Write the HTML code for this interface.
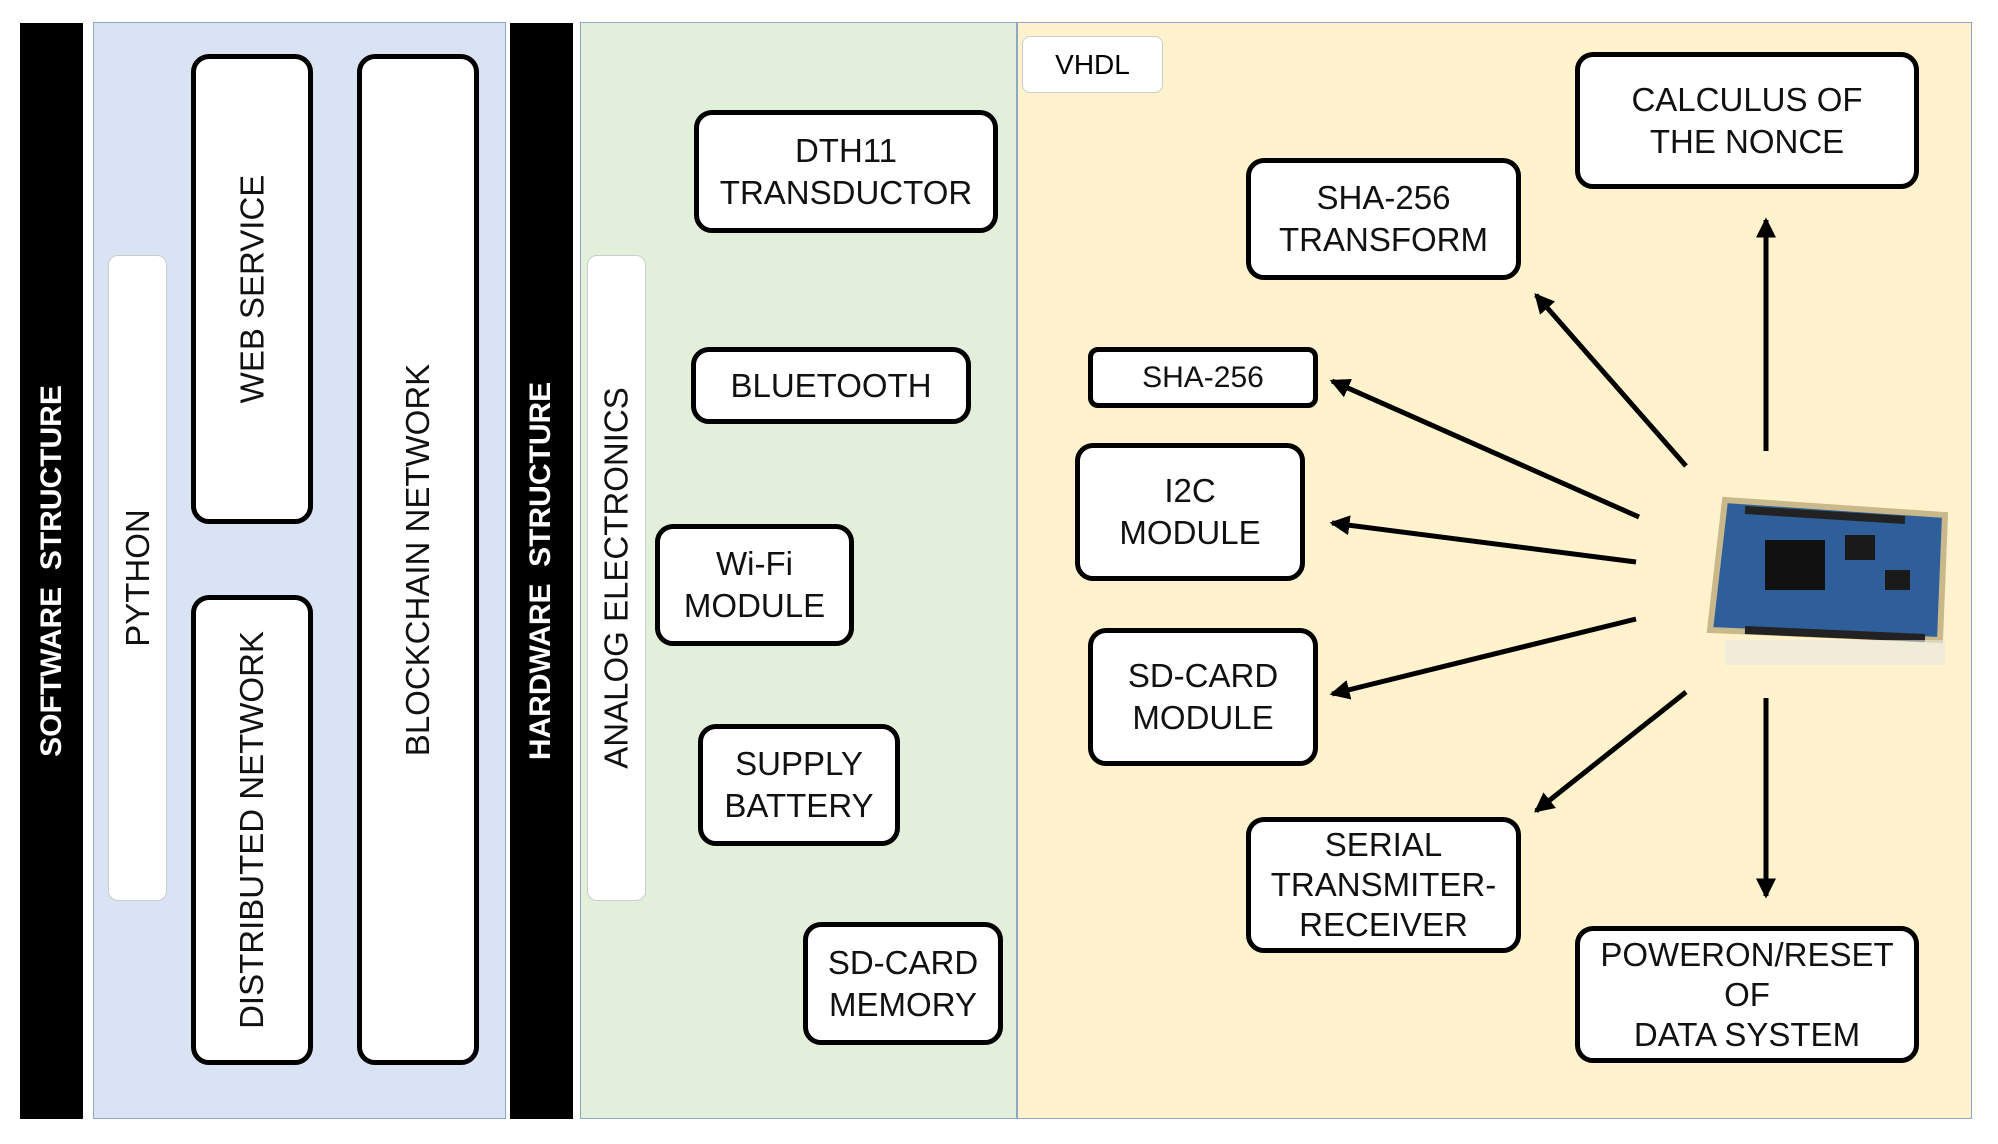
<!DOCTYPE html>
<html><head><style>
body{margin:0;width:1998px;height:1144px;background:#fff;position:relative;overflow:hidden;font-family:"Liberation Sans","DejaVu Sans",sans-serif}
div{position:absolute;box-sizing:border-box}
.bar{background:#000}
.box{border:5px solid #000;border-radius:18px;background:#fff;display:flex;align-items:center;justify-content:center;text-align:center;font-size:33px;line-height:42px;color:#111}
.v{display:flex;align-items:center;justify-content:center}
.v span{transform:rotate(-90deg);white-space:nowrap;font-size:33px;color:#111}
.wb{background:#fff;border:1px solid #ccc;border-radius:10px}
</style></head><body>
<div class="bar v" style="left:20px;top:23px;width:63px;height:1096px"><span style="color:#fff;font-weight:bold;font-size:30px">SOFTWARE&nbsp; STRUCTURE</span></div>
<div style="left:93px;top:22px;width:413px;height:1097px;background:#dae3f3;border:1.5px solid #8fa6c8"></div>
<div class="bar v" style="left:510px;top:23px;width:63px;height:1096px"><span style="color:#fff;font-weight:bold;font-size:30px">HARDWARE&nbsp; STRUCTURE</span></div>
<div style="left:580px;top:22px;width:437px;height:1097px;background:#e2efda;border:1.5px solid #8fa6c8"></div>
<div style="left:1017px;top:22px;width:955px;height:1097px;background:#fff2cc;border:1.5px solid #8fa6c8"></div>

<div class="wb v" style="left:108px;top:255px;width:59px;height:646px"><span>PYTHON</span></div>
<div class="box v" style="left:191px;top:54px;width:122px;height:470px"><span>WEB SERVICE</span></div>
<div class="box v" style="left:191px;top:595px;width:122px;height:470px"><span>DISTRIBUTED NETWORK</span></div>
<div class="box v" style="left:357px;top:54px;width:122px;height:1011px"><span>BLOCKCHAIN NETWORK</span></div>

<div class="wb v" style="left:587px;top:255px;width:59px;height:646px"><span>ANALOG ELECTRONICS</span></div>
<div class="box" style="left:694px;top:110px;width:304px;height:123px">DTH11<br>TRANSDUCTOR</div>
<div class="box" style="left:691px;top:347px;width:280px;height:77px">BLUETOOTH</div>
<div class="box" style="left:655px;top:524px;width:199px;height:122px">Wi-Fi<br>MODULE</div>
<div class="box" style="left:698px;top:724px;width:202px;height:122px">SUPPLY<br>BATTERY</div>
<div class="box" style="left:803px;top:922px;width:200px;height:123px">SD-CARD<br>MEMORY</div>

<div style="left:1022px;top:36px;width:141px;height:57px;background:#fff;border:1px solid #ccc;border-radius:8px;font-size:28px;display:flex;align-items:center;justify-content:center">VHDL</div>
<div class="box" style="left:1575px;top:52px;width:344px;height:137px">CALCULUS OF<br>THE NONCE</div>
<div class="box" style="left:1246px;top:158px;width:275px;height:122px">SHA-256<br>TRANSFORM</div>
<div class="box" style="left:1088px;top:347px;width:230px;height:61px;border-radius:10px;font-size:30px">SHA-256</div>
<div class="box" style="left:1075px;top:443px;width:230px;height:138px">I2C<br>MODULE</div>
<div class="box" style="left:1088px;top:628px;width:230px;height:138px">SD-CARD<br>MODULE</div>
<div class="box" style="left:1246px;top:817px;width:275px;height:136px;line-height:40px">SERIAL<br>TRANSMITER-<br>RECEIVER</div>
<div class="box" style="left:1575px;top:926px;width:344px;height:137px;line-height:40px">POWERON/RESET<br>OF<br>DATA SYSTEM</div>

<svg style="position:absolute;left:0;top:0" width="1998" height="1144">
<defs><marker id="a" markerWidth="4" markerHeight="4" refX="3.5" refY="2" orient="auto"><path d="M0,0 L4,2 L0,4 z" fill="#000"/></marker></defs>
<g stroke="#000" stroke-width="5" marker-end="url(#a)">
<line x1="1766" y1="451" x2="1766" y2="220"/>
<line x1="1766" y1="698" x2="1766" y2="896"/>
<line x1="1686" y1="466" x2="1536" y2="295"/>
<line x1="1639" y1="517" x2="1332" y2="381"/>
<line x1="1636" y1="562" x2="1332" y2="523"/>
<line x1="1636" y1="619" x2="1332" y2="694"/>
<line x1="1686" y1="692" x2="1536" y2="811"/>
</g>
<g transform="translate(1705,490)">
<polygon points="20,10 240,25 235,150 5,140" fill="#2f5f9a" stroke="#c9b98a" stroke-width="6"/>
<rect x="60" y="50" width="60" height="50" fill="#111"/>
<rect x="140" y="45" width="30" height="25" fill="#1a1a1a"/>
<rect x="180" y="80" width="25" height="20" fill="#1a1a1a"/>
<line x1="40" y1="20" x2="200" y2="30" stroke="#222" stroke-width="8"/>
<line x1="40" y1="140" x2="220" y2="148" stroke="#222" stroke-width="8"/>
<rect x="20" y="150" width="220" height="25" fill="#e8e8e0" opacity="0.6"/>
</g>
</svg>
</body></html>
